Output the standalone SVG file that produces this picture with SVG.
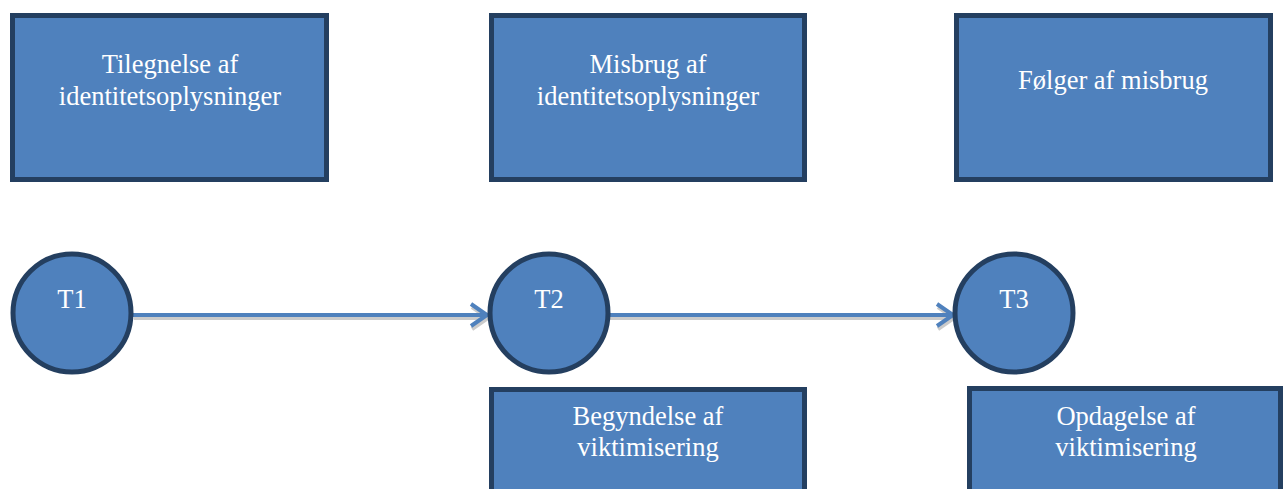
<svg xmlns="http://www.w3.org/2000/svg" width="1284" height="489" viewBox="0 0 1284 489">
<style>
.box{fill:#4F81BD;stroke:#243F60;stroke-width:5}
.t{font-family:"Liberation Serif","Times New Roman",serif;font-size:26.5px;fill:#FFFFFF;text-anchor:middle}
.conn{stroke:#4F81BD;stroke-width:4;fill:none}
.sh{stroke:#BFBFBF;stroke-width:4;fill:none;opacity:0.8}
</style>
<defs>
<marker id="arr" markerUnits="userSpaceOnUse" markerWidth="24" markerHeight="30" refX="20" refY="15" orient="auto" viewBox="0 0 24 30">
<path d="M4,4 L20,15 L4,26" fill="none" stroke="#4F81BD" stroke-width="4"/>
</marker>
<marker id="arrs" markerUnits="userSpaceOnUse" markerWidth="24" markerHeight="30" refX="20" refY="15" orient="auto" viewBox="0 0 24 30">
<path d="M4,4 L20,15 L4,26" fill="none" stroke="#BFBFBF" stroke-width="4"/>
</marker>
</defs>
<g id="connectors">
<line class="sh" x1="134" y1="318" x2="488" y2="318" marker-end="url(#arrs)"/>
<line class="sh" x1="610" y1="318" x2="954" y2="318" marker-end="url(#arrs)"/>
<line class="conn" x1="133" y1="315" x2="487" y2="315" marker-end="url(#arr)"/>
<line class="conn" x1="609" y1="315" x2="953" y2="315" marker-end="url(#arr)"/>
</g>
<g id="box1">
<rect class="box" x="12.5" y="15.5" width="314" height="164"/>
<text class="t" x="170" y="73">Tilegnelse af</text>
<text class="t" x="170" y="105">identitetsoplysninger</text>
</g>
<g id="box2">
<rect class="box" x="491.5" y="15.5" width="313" height="164"/>
<text class="t" x="648" y="73">Misbrug af</text>
<text class="t" x="648" y="105">identitetsoplysninger</text>
</g>
<g id="box3">
<rect class="box" x="956.5" y="15.5" width="314" height="164"/>
<text class="t" x="1113" y="89">Følger af misbrug</text>
</g>
<g id="t1">
<circle class="box" cx="72" cy="313" r="59"/>
<text class="t" x="72" y="308">T1</text>
</g>
<g id="t2">
<circle class="box" cx="549" cy="313" r="59"/>
<text class="t" x="549" y="308">T2</text>
</g>
<g id="t3">
<circle class="box" cx="1014" cy="313" r="59"/>
<text class="t" x="1014" y="308">T3</text>
</g>
<g id="box4">
<rect class="box" x="491.5" y="389.5" width="313" height="110"/>
<text class="t" x="648" y="425">Begyndelse af</text>
<text class="t" x="648" y="456">viktimisering</text>
</g>
<g id="box5">
<rect class="box" x="969.5" y="388.5" width="311" height="110"/>
<text class="t" x="1126" y="425">Opdagelse af</text>
<text class="t" x="1126" y="456">viktimisering</text>
</g>
</svg>
